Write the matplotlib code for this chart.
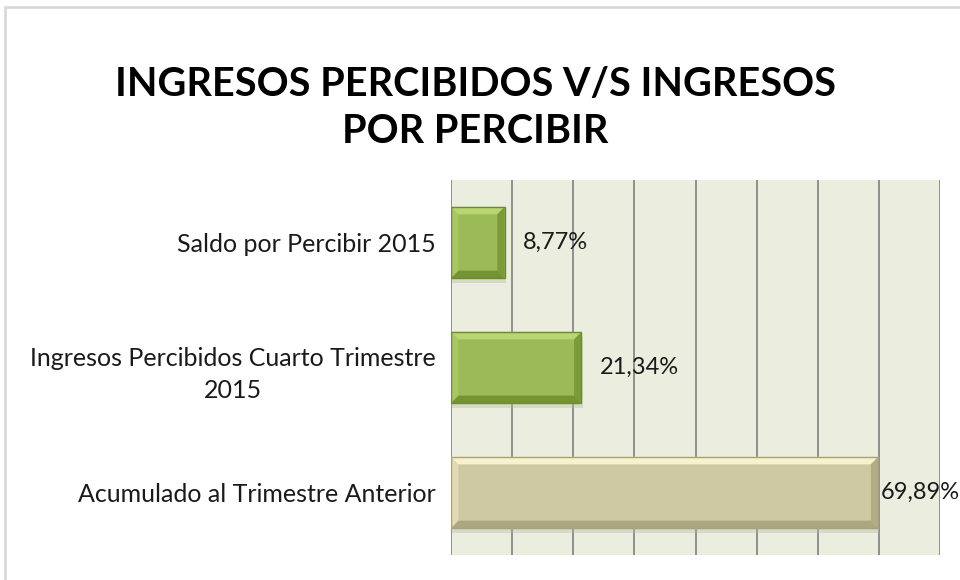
import matplotlib.pyplot as plt
from matplotlib.patches import Polygon, Rectangle

# datos
categorias = ['Acumulado al Trimestre Anterior',
              'Ingresos Percibidos Cuarto Trimestre\n2015',
              'Saldo por Percibir 2015']
valores = [0.6989, 0.2134, 0.0877]
etiquetas = ['69,89%', '21,34%', '8,77%']
colores = ['#cfc9a3', '#9bbb59', '#9bbb59']
claros = ['#f7f2cb', '#b9d672', '#b9d672']
oscuros = ['#a8a27c', '#6e8c2e', '#6e8c2e']
desfase = [2, 13, 13]

plt.rcParams['font.family'] = ['Lato', 'DejaVu Sans']

fig = plt.figure(figsize=(9.6, 5.8), dpi=100)
fig.patch.set_facecolor('white')
fig.add_artist(Rectangle((5 / 960, -0.05), 1.1, 1 - 7 / 580 + 0.05,
                         transform=fig.transFigure, fill=False,
                         edgecolor='#d9d9d9', linewidth=2))

ax = fig.add_axes([451 / 960, 25 / 580, (940 - 451) / 960, (555 - 180) / 580])
ax.set_facecolor('#ebeedf')

pos = list(range(len(valores)))
barras = ax.barh(pos, valores, height=0.57, color=colores, zorder=3,
                 edgecolor='none')

ax.set_xlim(0, 0.8)
ax.set_ylim(-0.5, 2.5)
ax.set_xticks([i / 10 for i in range(9)])
ax.xaxis.grid(True, color='#888888', linewidth=1.3, zorder=1)
ax.set_axisbelow(True)
ax.tick_params(axis='x', length=0, labelbottom=False)
ax.tick_params(axis='y', length=0, pad=11)
for s in ax.spines.values():
    s.set_visible(False)
ax.set_yticks(pos)
ax.set_yticklabels(categorias, fontsize=18, color='#1a1a1a',
                   multialignment='center', linespacing=1.5)

# efecto bisel
bx = 0.012
by = 0.06
for r, cl, co in zip(barras, claros, oscuros):
    x0, y0 = r.get_x(), r.get_y()
    x1, y1 = x0 + r.get_width(), y0 + r.get_height()
    # sombra
    ax.add_patch(Rectangle((x0 + 0.002, y0 - 0.04), r.get_width(), r.get_height(),
                           color='#b8b8a8', alpha=0.4, zorder=2, linewidth=0))
    ax.add_patch(Polygon([(x0, y1), (x1, y1), (x1 - bx, y1 - by), (x0 + bx, y1 - by)],
                         closed=True, color=cl, zorder=4, linewidth=0))
    ax.add_patch(Polygon([(x0, y0), (x1, y0), (x1 - bx, y0 + by), (x0 + bx, y0 + by)],
                         closed=True, color=co, alpha=0.85, zorder=4, linewidth=0))
    ax.add_patch(Polygon([(x0, y0), (x0, y1), (x0 + bx, y1 - by), (x0 + bx, y0 + by)],
                         closed=True, color=cl, alpha=0.45, zorder=4, linewidth=0))
    ax.add_patch(Polygon([(x1, y0), (x1, y1), (x1 - bx, y1 - by), (x1 - bx, y0 + by)],
                         closed=True, color=co, alpha=0.7, zorder=4, linewidth=0))
    ax.add_patch(Rectangle((x0, y0), r.get_width(), r.get_height(), fill=False,
                           edgecolor=co, linewidth=1, zorder=5))

for p, v, t, d in zip(pos, valores, etiquetas, desfase):
    ax.annotate(t, (v, p), xytext=(d, 0), textcoords='offset points',
                ha='left', va='center', fontsize=17, color='#1a1a1a',
                zorder=6, annotation_clip=False)

fig.text(0.495, 1 - 84 / 580, 'INGRESOS PERCIBIDOS V/S INGRESOS',
         ha='center', va='center', fontsize=28.5, fontweight='bold')
fig.text(0.495, 1 - 131 / 580, 'POR PERCIBIR',
         ha='center', va='center', fontsize=28.5, fontweight='bold')

fig.savefig('out.png', dpi=100)
